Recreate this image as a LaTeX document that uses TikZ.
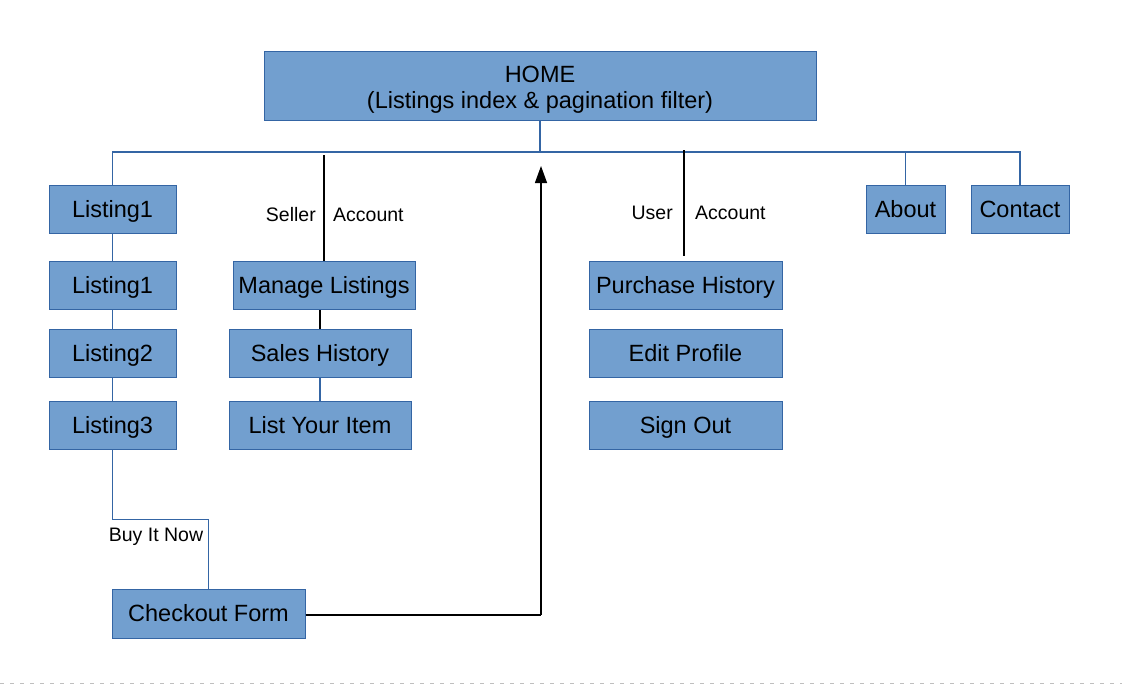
\documentclass[tikz,border=0pt]{standalone}
\usepackage{fontspec}
\setmainfont{Liberation Sans}
\usetikzlibrary{arrows.meta}
\usetikzlibrary{positioning}

\definecolor{boxfill}{HTML}{729FCF}
\definecolor{boxline}{HTML}{3465A4}

\begin{document}
\begin{tikzpicture}[%
  >={Triangle[length=17pt,width=12pt]},
  x=1pt, y=-1pt,
  page/.style={draw=boxline, fill=boxfill, line width=1pt, inner sep=0pt,
    minimum height=48pt, text height=16pt, text depth=-1pt,
    font=\fontsize{23.5}{26}\selectfont},
  link/.style={draw=boxline, line width=1.2pt},
  flow/.style={draw=black, line width=1.3pt},
  tag/.style={inner sep=0pt, font=\fontsize{19.5}{23}\selectfont},
]

  \useasboundingbox (0,0) rectangle (1122,685);

  % home page
  \node[page, minimum width=552pt, minimum height=68pt] (home) at (540,86) {};
  \node[align=center, inner sep=0pt, font=\fontsize{23.5}{26}\selectfont,
    anchor=base] (hometext) at (540,108) {HOME\\(Listings index \& pagination filter)};

  \coordinate (bus) at (540,152);

  % listings
  \node[page, minimum width=127pt] (list1)  at (112.5,209) {Listing1};
  \node[page, minimum width=127pt] (list1b) at (112.5,285) {Listing1};
  \node[page, minimum width=127pt] (list2)  at (112.5,353) {Listing2};
  \node[page, minimum width=127pt] (list3)  at (112.5,425) {Listing3};

  \node[page, minimum width=193pt, minimum height=49pt] (checkout) at (208.5,613.5) {Checkout Form};
  \node[tag] (buy) at (156,537) {Buy It Now};

  % seller account
  \node[page, minimum width=182pt] (manage) at (324,285) {Manage Listings};
  \node[page, minimum width=182pt] (sales)  at (320,353) {Sales History};
  \node[page, minimum width=182pt] (sell)   at (320,425) {List Your Item};

  \coordinate (sellertop) at (324,155);
  \node[tag, anchor=east] (seller)    at (316,215) {Seller};
  \node[tag, anchor=west] (selleracc) at (333,215) {Account};

  % user account
  \node[page, minimum width=193pt] (purchase) at (685.5,285) {Purchase History};
  \node[page, minimum width=193pt] (profile)  at (685.5,353) {Edit Profile};
  \node[page, minimum width=193pt] (signout)  at (685.5,425) {Sign Out};

  \coordinate (usertop) at (684,150);
  \node[tag, anchor=east] (user)    at (673,213) {User};
  \node[tag, anchor=west] (useracc) at (695,213) {Account};

  % static pages
  \node[page, minimum width=79pt] (about)   at (905.5,209) {About\hspace{8pt}};
  \node[page, minimum width=98pt] (contact) at (1020,209) {Contact};

  % tree
  \draw[link] (home.south) -- (bus);
  \draw[link] (list1.north) |- (bus) -| (contact.north);
  \draw[link] (about.north) -- (about.north |- bus);

  \draw[link] (list1) -- (list1b);
  \draw[link] (list1b) -- (list2);
  \draw[link] (list2) -- (list3);
  \draw[link] (list3.south) -- ++(0,70) -| (checkout.north);

  \draw[flow] (sellertop) -- (manage.north);
  \draw[flow] (sales.north) -- (sales.north |- manage.south);
  \draw[link] (sales) -- (sell);

  \draw[flow, shorten >=5pt] (usertop) -- (usertop |- purchase.north);

  % back to home
  \coordinate (ret) at (541,615);
  \coordinate (retend) at (541,166);
  \draw[flow] (checkout.east |- ret) -- (ret);
  \draw[flow, ->] (ret) -- (retend);

  % page edge
  \draw[black!25, line width=1pt, dash pattern=on 4pt off 6pt] (0,683) -- (1122,683);

\end{tikzpicture}
\end{document}
